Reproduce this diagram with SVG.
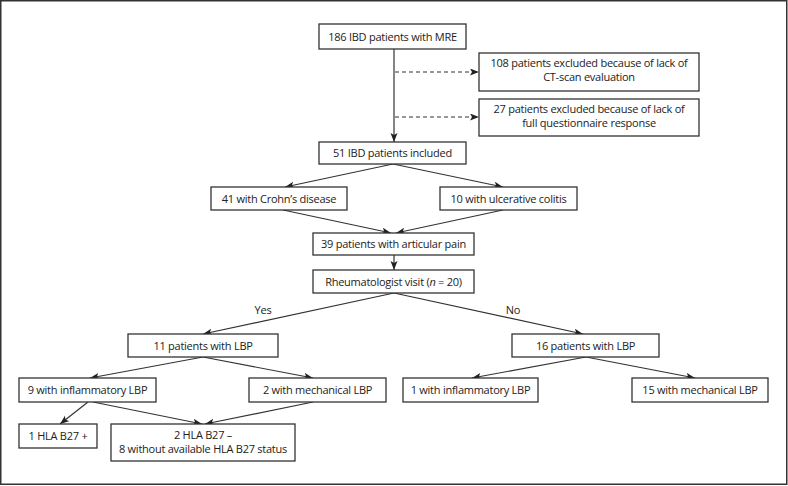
<svg xmlns="http://www.w3.org/2000/svg" width="788" height="486" viewBox="0 0 788 486">
  <style>
    .box { fill: #ffffff; stroke: #333333; stroke-width: 1.3; }
    .t { font-family: "Open Sans", "Noto Sans", sans-serif; font-size: 11px; letter-spacing: -0.25px; fill: #222222; text-anchor: middle; }
    .c { fill: none; stroke: #333333; stroke-width: 1.2; marker-end: url(#ah); }
    .d { stroke-dasharray: 4 3; }
  </style>
  <defs>
    <marker id="ah" markerUnits="userSpaceOnUse" markerWidth="10" markerHeight="8" refX="9" refY="3.5" orient="auto">
      <path d="M0,0 L9,3.5 L0,7 L2,3.5 z" fill="#222222"/>
    </marker>
  </defs>
  <rect x="0" y="0" width="788" height="486" fill="#ffffff"/>
  <rect x="0.75" y="0.75" width="786" height="483.5" fill="none" stroke="#333333" stroke-width="1.5"/>

  <g id="connectors">
    <line class="c" x1="394" y1="49" x2="394" y2="142"/>
    <line class="c d" x1="395" y1="72" x2="479" y2="72"/>
    <line class="c d" x1="395" y1="117" x2="479" y2="117"/>
    <line class="c" x1="393" y1="164" x2="285" y2="187"/>
    <line class="c" x1="393" y1="164" x2="503" y2="187"/>
    <line class="c" x1="283" y1="210" x2="391" y2="233"/>
    <line class="c" x1="503" y1="210" x2="396" y2="233"/>
    <line class="c" x1="394" y1="255" x2="394" y2="270"/>
    <line class="c" x1="394" y1="293" x2="203" y2="334"/>
    <line class="c" x1="394" y1="293" x2="583" y2="334"/>
    <line class="c" x1="203" y1="357" x2="90" y2="378"/>
    <line class="c" x1="203" y1="357" x2="313" y2="378"/>
    <line class="c" x1="586" y1="357" x2="472" y2="378"/>
    <line class="c" x1="586" y1="357" x2="695" y2="378"/>
    <line class="c" x1="88" y1="402" x2="60" y2="424"/>
    <line class="c" x1="93" y1="402" x2="202" y2="424"/>
    <line class="c" x1="313" y1="402" x2="205" y2="424"/>
    <text class="t" x="263" y="314">Yes</text>
    <text class="t" x="513" y="314">No</text>
  </g>

  <g id="n186">
    <rect class="box" x="319" y="24" width="147" height="25"/>
    <text class="t" x="392.5" y="40.5">186 IBD patients with MRE</text>
  </g>
  <g id="n108">
    <rect class="box" x="479" y="53" width="220" height="38"/>
    <text class="t" x="589" y="67">108 patients excluded because of lack of</text>
    <text class="t" x="589" y="81">CT-scan evaluation</text>
  </g>
  <g id="n27">
    <rect class="box" x="479" y="99" width="220" height="37"/>
    <text class="t" x="589" y="113">27 patients excluded because of lack of</text>
    <text class="t" x="589" y="127">full questionnaire response</text>
  </g>
  <g id="n51">
    <rect class="box" x="319" y="142" width="147" height="22"/>
    <text class="t" x="392.5" y="157">51 IBD patients included</text>
  </g>
  <g id="ncd">
    <rect class="box" x="211" y="187" width="136" height="23"/>
    <text class="t" x="279" y="202.5">41 with Crohn’s disease</text>
  </g>
  <g id="nuc">
    <rect class="box" x="440" y="187" width="137" height="23"/>
    <text class="t" x="508.5" y="202.5">10 with ulcerative colitis</text>
  </g>
  <g id="n39">
    <rect class="box" x="313" y="233" width="161" height="22"/>
    <text class="t" x="393.5" y="248">39 patients with articular pain</text>
  </g>
  <g id="nrheum">
    <rect class="box" x="313" y="270" width="161" height="23"/>
    <text class="t" x="393.5" y="285.5">Rheumatologist visit (<tspan font-style="italic">n</tspan> = 20)</text>
  </g>
  <g id="n11">
    <rect class="box" x="128" y="334" width="150" height="23"/>
    <text class="t" x="203" y="349.5">11 patients with LBP</text>
  </g>
  <g id="n16">
    <rect class="box" x="512" y="334" width="147" height="23"/>
    <text class="t" x="585.5" y="349.5">16 patients with LBP</text>
  </g>
  <g id="n9infl">
    <rect class="box" x="19" y="378" width="137" height="24"/>
    <text class="t" x="87.5" y="394">9 with inflammatory LBP</text>
  </g>
  <g id="n2mech">
    <rect class="box" x="249" y="378" width="137" height="24"/>
    <text class="t" x="317.5" y="394">2 with mechanical LBP</text>
  </g>
  <g id="n1infl">
    <rect class="box" x="403" y="378" width="135" height="24"/>
    <text class="t" x="470.5" y="394">1 with inflammatory LBP</text>
  </g>
  <g id="n15mech">
    <rect class="box" x="632" y="378" width="136" height="24"/>
    <text class="t" x="700" y="394">15 with mechanical LBP</text>
  </g>
  <g id="nhlapos">
    <rect class="box" x="19" y="424" width="78" height="24"/>
    <text class="t" x="58" y="440">1 HLA B27 +</text>
  </g>
  <g id="nhlaneg">
    <rect class="box" x="111" y="424" width="184" height="37"/>
    <text class="t" x="203" y="438.5">2 HLA B27 –</text>
    <text class="t" x="203" y="452.5">8 without available HLA B27 status</text>
  </g>
</svg>
